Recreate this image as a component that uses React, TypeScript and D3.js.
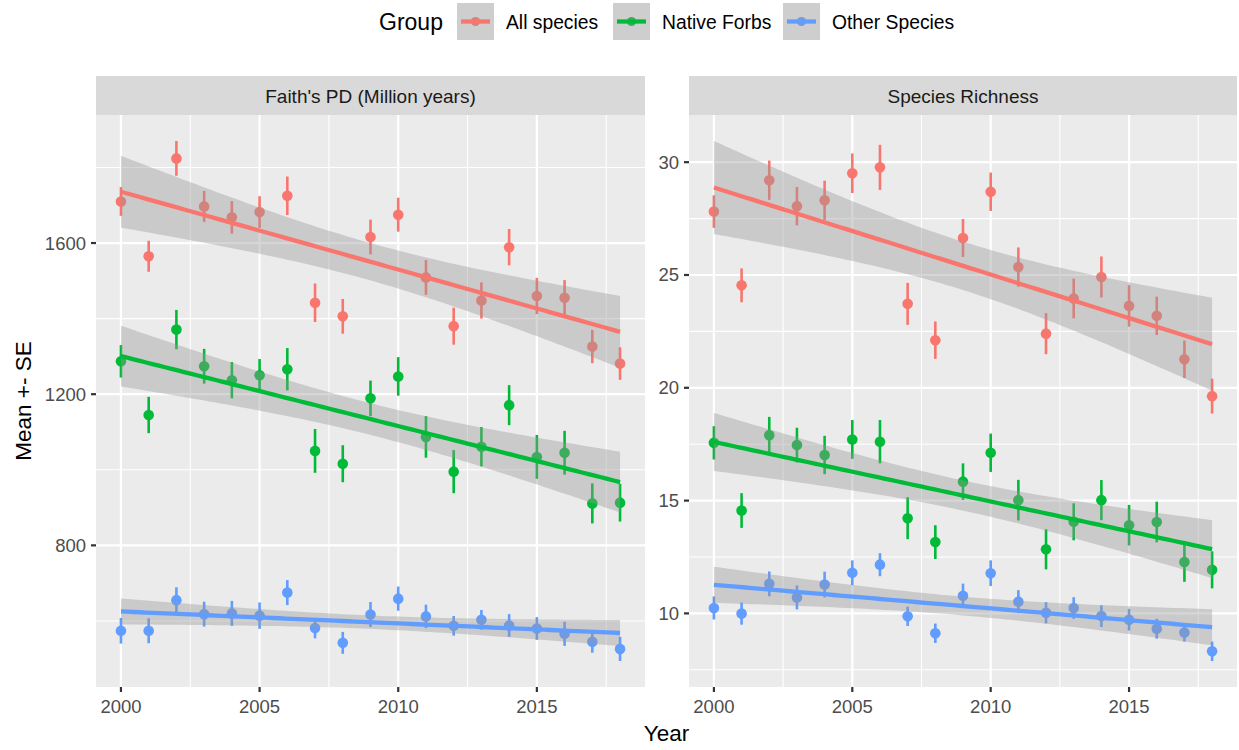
import React, { useEffect, useRef } from "react";
import * as d3 from "d3";

const years = [2000, 2001, 2002, 2003, 2004, 2005, 2006, 2007, 2008, 2009, 2010, 2011, 2012, 2013, 2014, 2015, 2016, 2017, 2018];
const groups = ["All species", "Native Forbs", "Other Species"];
const groupColors = ["#F8766D", "#00BA38", "#619CFF"];
const facetTitles = ["Faith's PD (Million years)", "Species Richness"];

// Faith's PD
const pdAll = [1710, 1565, 1824, 1697, 1668, 1682, 1725, 1442, 1406, 1616, 1675, 1509, 1380, 1448, 1589, 1460, 1455, 1326, 1281];
const pdAllSe = [38, 41, 46, 41, 43, 42, 51, 51, 46, 46, 45, 46, 49, 48, 48, 48, 47, 44, 43];
const pdForbs = [1287, 1145, 1371, 1274, 1237, 1250, 1266, 1050, 1016, 1189, 1247, 1087, 995, 1061, 1171, 1034, 1045, 911, 913];
const pdForbsSe = [43, 48, 52, 46, 48, 43, 56, 58, 49, 47, 51, 55, 57, 52, 53, 58, 58, 53, 50];
const pdOther = [574, 574, 655, 618, 620, 614, 675, 581, 542, 617, 659, 612, 587, 603, 588, 580, 566, 545, 526];
const pdOtherSe = [34, 33, 34, 33, 33, 35, 33, 27, 29, 33, 32, 31, 26, 26, 30, 30, 32, 29, 32];

// Species richness
const srAll = [27.81, 24.54, 29.2, 28.05, 28.31, 29.51, 29.77, 23.72, 22.11, 26.64, 28.69, 25.35, 22.4, 23.96, 24.91, 23.63, 23.19, 21.26, 19.63];
const srAllSe = [0.72, 0.75, 0.87, 0.85, 0.87, 0.88, 1.0, 0.93, 0.83, 0.84, 0.85, 0.87, 0.91, 0.88, 0.91, 0.92, 0.85, 0.83, 0.77];
const srForbs = [17.56, 14.56, 17.9, 17.46, 17.02, 17.71, 17.61, 14.22, 13.16, 15.84, 17.12, 15.02, 12.84, 14.06, 15.02, 13.91, 14.05, 12.28, 11.93];
const srForbsSe = [0.74, 0.77, 0.81, 0.77, 0.85, 0.86, 0.96, 0.93, 0.75, 0.81, 0.85, 0.9, 0.89, 0.82, 0.89, 0.9, 0.9, 0.88, 0.82];
const srOther = [10.24, 9.99, 11.31, 10.71, 11.28, 11.8, 12.16, 9.87, 9.12, 10.78, 11.78, 10.52, 10.03, 10.24, 9.88, 9.72, 9.32, 9.15, 8.32];
const srOtherSe = [0.51, 0.49, 0.55, 0.53, 0.57, 0.55, 0.51, 0.43, 0.43, 0.54, 0.57, 0.51, 0.47, 0.48, 0.48, 0.48, 0.44, 0.4, 0.43];

const pdTicks = [800, 1200, 1600];
const srTicks = [10, 15, 20, 25, 30];
const yearTicks = [2000, 2005, 2010, 2015];

interface Series { mean: number[]; se: number[]; }

// lm fit with 95% confidence band, like geom_smooth(method = "lm")
function fitLm(xs: number[], ys: number[]) {
  const n = xs.length;
  const mx = d3.mean(xs)!, my = d3.mean(ys)!;
  const sxx = d3.sum(xs, x => (x - mx) ** 2);
  const sxy = d3.sum(xs.map((x, i) => (x - mx) * (ys[i] - my)));
  const b = sxy / sxx, a = my - b * mx;
  const rss = d3.sum(xs.map((x, i) => (ys[i] - (a + b * x)) ** 2));
  const s = Math.sqrt(rss / (n - 2));
  const t = 2.109816;
  const lo = d3.min(xs)!, hi = d3.max(xs)!;
  return d3.range(80).map(i => {
    const x = lo + (i * (hi - lo)) / 79;
    const fit = a + b * x;
    const se = s * Math.sqrt(1 / n + (x - mx) ** 2 / sxx);
    return { x, fit, lo: fit - t * se, hi: fit + t * se };
  });
}

const App: React.FC = () => {
  const svgRef = useRef<SVGSVGElement | null>(null);

  useEffect(() => {
    const width = 1239, height = 750;
    const svg = d3.select(svgRef.current).attr("width", width).attr("height", height);
    svg.selectAll("*").remove();
    const font = "'Liberation Sans', Arial, Helvetica, sans-serif";

    const panelTop = 115, panelBottom = 687, stripTop = 76;
    const panels = [
      { x0: 96, x1: 645, title: facetTitles[0], ticks: pdTicks,
        series: [{ mean: pdAll, se: pdAllSe }, { mean: pdForbs, se: pdForbsSe }, { mean: pdOther, se: pdOtherSe }] as Series[] },
      { x0: 689, x1: 1237, title: facetTitles[1], ticks: srTicks,
        series: [{ mean: srAll, se: srAllSe }, { mean: srForbs, se: srForbsSe }, { mean: srOther, se: srOtherSe }] as Series[] },
    ];

    panels.forEach(p => {
      const fits = p.series.map(s => fitLm(years, s.mean));
      const lowVals = p.series.flatMap(s => s.mean.map((m, i) => m - s.se[i])).concat(fits.flatMap(f => f.map(d => d.lo)));
      const highVals = p.series.flatMap(s => s.mean.map((m, i) => m + s.se[i])).concat(fits.flatMap(f => f.map(d => d.hi)));
      const yMin = d3.min(lowVals)!, yMax = d3.max(highVals)!;
      const yPad = (yMax - yMin) * 0.05;
      const y = d3.scaleLinear().domain([yMin - yPad, yMax + yPad]).range([panelBottom, panelTop]);
      const xPad = (years[years.length - 1] - years[0]) * 0.05;
      const x = d3.scaleLinear().domain([years[0] - xPad, years[years.length - 1] + xPad]).range([p.x0, p.x1]);

      const g = svg.append("g");
      g.append("rect").attr("x", p.x0).attr("y", panelTop).attr("width", p.x1 - p.x0)
        .attr("height", panelBottom - panelTop).attr("fill", "#EBEBEB");

      // minor grid
      const yStep = p.ticks[1] - p.ticks[0];
      const yMinor = [p.ticks[0] - yStep / 2, ...p.ticks.map(t => t + yStep / 2)]
        .filter(v => v > y.domain()[0] && v < y.domain()[1]);
      const xMinor = [yearTicks[0] - 2.5, ...yearTicks.map(t => t + 2.5)]
        .filter(v => v > x.domain()[0] && v < x.domain()[1]);
      yMinor.forEach(v => g.append("line").attr("x1", p.x0).attr("x2", p.x1).attr("y1", y(v)).attr("y2", y(v))
        .attr("stroke", "#FFFFFF").attr("stroke-width", 1.1));
      xMinor.forEach(v => g.append("line").attr("y1", panelTop).attr("y2", panelBottom).attr("x1", x(v)).attr("x2", x(v))
        .attr("stroke", "#FFFFFF").attr("stroke-width", 1.1));
      // major grid
      p.ticks.forEach(v => g.append("line").attr("x1", p.x0).attr("x2", p.x1).attr("y1", y(v)).attr("y2", y(v))
        .attr("stroke", "#FFFFFF").attr("stroke-width", 2.2));
      yearTicks.forEach(v => g.append("line").attr("y1", panelTop).attr("y2", panelBottom).attr("x1", x(v)).attr("x2", x(v))
        .attr("stroke", "#FFFFFF").attr("stroke-width", 2.2));

      // point ranges
      p.series.forEach((s, gi) => {
        years.forEach((yr, i) => {
          g.append("line").attr("x1", x(yr)).attr("x2", x(yr))
            .attr("y1", y(s.mean[i] - s.se[i])).attr("y2", y(s.mean[i] + s.se[i]))
            .attr("stroke", groupColors[gi]).attr("stroke-width", 2.6);
          g.append("circle").attr("cx", x(yr)).attr("cy", y(s.mean[i])).attr("r", 5.3)
            .attr("fill", groupColors[gi]);
        });
      });

      // smooths
      fits.forEach((f, gi) => {
        g.append("path").datum(f).attr("fill", "#999999").attr("fill-opacity", 0.4)
          .attr("d", d3.area<{ x: number; lo: number; hi: number }>().x(d => x(d.x)).y0(d => y(d.lo)).y1(d => y(d.hi)));
        g.append("path").datum(f).attr("fill", "none").attr("stroke", groupColors[gi]).attr("stroke-width", 4.3)
          .attr("d", d3.line<{ x: number; fit: number }>().x(d => x(d.x)).y(d => y(d.fit)));
      });

      // strip
      g.append("rect").attr("x", p.x0).attr("y", stripTop).attr("width", p.x1 - p.x0)
        .attr("height", panelTop - stripTop).attr("fill", "#D9D9D9");
      g.append("text").attr("x", (p.x0 + p.x1) / 2).attr("y", (stripTop + panelTop) / 2 + 1)
        .attr("text-anchor", "middle").attr("dominant-baseline", "central")
        .attr("font-family", font).attr("font-size", 19).attr("fill", "#1A1A1A").text(p.title);

      // y axis
      p.ticks.forEach(v => {
        g.append("line").attr("x1", p.x0 - 5).attr("x2", p.x0).attr("y1", y(v)).attr("y2", y(v))
          .attr("stroke", "#333333").attr("stroke-width", 2.2);
        g.append("text").attr("x", p.x0 - 10).attr("y", y(v)).attr("text-anchor", "end")
          .attr("dominant-baseline", "central").attr("font-family", font).attr("font-size", 18.5)
          .attr("fill", "#4D4D4D").text(String(v));
      });
      // x axis
      yearTicks.forEach(v => {
        g.append("line").attr("x1", x(v)).attr("x2", x(v)).attr("y1", panelBottom).attr("y2", panelBottom + 5)
          .attr("stroke", "#333333").attr("stroke-width", 2.2);
        g.append("text").attr("x", x(v)).attr("y", panelBottom + 26).attr("text-anchor", "middle")
          .attr("font-family", font).attr("font-size", 18.5).attr("fill", "#4D4D4D").text(String(v));
      });
    });

    // axis titles
    svg.append("text").attr("x", (panels[0].x0 + panels[1].x1) / 2).attr("y", 741).attr("text-anchor", "middle")
      .attr("font-family", font).attr("font-size", 22.5).attr("fill", "#000").text("Year");
    svg.append("text").attr("transform", `translate(31,${(panelTop + panelBottom) / 2}) rotate(-90)`)
      .attr("text-anchor", "middle").attr("font-family", font).attr("font-size", 22.5).attr("fill", "#000")
      .text("Mean +- SE");

    // legend
    const leg = svg.append("g");
    leg.append("text").attr("x", 379).attr("y", 22).attr("dominant-baseline", "central")
      .attr("font-family", font).attr("font-size", 23).attr("fill", "#000").text("Group");
    const keyX = [457, 613, 783];
    groups.forEach((name, gi) => {
      const kx = keyX[gi], ky = 3, kw = 37, kh = 37;
      leg.append("rect").attr("x", kx).attr("y", ky).attr("width", kw).attr("height", kh).attr("fill", "#F2F2F2");
      leg.append("circle").attr("cx", kx + kw / 2).attr("cy", ky + kh / 2).attr("r", 4.6).attr("fill", groupColors[gi]);
      leg.append("rect").attr("x", kx).attr("y", ky).attr("width", kw).attr("height", kh)
        .attr("fill", "#999999").attr("fill-opacity", 0.4);
      leg.append("line").attr("x1", kx + 4).attr("x2", kx + kw - 4).attr("y1", ky + kh / 2).attr("y2", ky + kh / 2)
        .attr("stroke", groupColors[gi]).attr("stroke-width", 4.3);
      leg.append("text").attr("x", kx + kw + 12).attr("y", ky + kh / 2 + 1).attr("dominant-baseline", "central")
        .attr("font-family", font).attr("font-size", 19.3).attr("fill", "#000").text(name);
    });
  }, []);

  return <svg ref={svgRef} style={{ position: "absolute", left: 0, top: 0 }}></svg>;
};

export default App;
